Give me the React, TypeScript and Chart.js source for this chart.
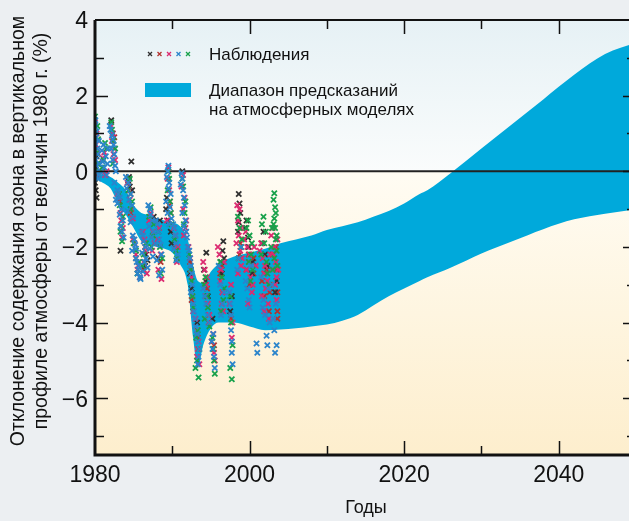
import React, { useEffect, useRef } from "react";
import { Chart, registerables } from "chart.js";

Chart.register(...registerables);

const X_MIN = 1980;
const X_MAX = 2050;
const Y_MIN = -7.5;
const Y_MAX = 4;

const xLabelYears = [1980, 2000, 2020, 2040];
const xTickYears = [1990, 2000, 2010, 2020, 2030, 2040];
const yLabelValues = [4, 2, 0, -2, -4, -6];
const yTickValues = [3, 2, 1, 0, -1, -2, -3, -4, -5, -6, -7];

const xAxisTitle = "Годы";
const yAxisTitle1 = "Отклонение содержания озона в вертикальном";
const yAxisTitle2 = "профиле атмосферы от величин 1980 г. (%)";
const legendObs = "Наблюдения";
const legendBand1 = "Диапазон предсказаний";
const legendBand2 = "на атмосферных моделях";

// model range band
const bandYears = [1980, 1981, 1982, 1983, 1984, 1985, 1986, 1987, 1988, 1989, 1990, 1991, 1992, 1992.7, 1993.3, 1994, 1995, 1996, 1998, 2000, 2002, 2004, 2006, 2008, 2010, 2012, 2014, 2016, 2018, 2020, 2022, 2023, 2026, 2030, 2034, 2038, 2042, 2046, 2050];
const bandUpper = [-0.05, -0.1, -0.15, -0.3, -0.5, -0.9, -1.1, -1.15, -1.25, -1.3, -1.35, -1.45, -1.8, -2.5, -2.9, -2.95, -2.65, -2.45, -2.25, -2.15, -2.05, -1.9, -1.8, -1.7, -1.55, -1.45, -1.35, -1.2, -1.05, -0.85, -0.6, -0.5, -0.05, 0.6, 1.25, 1.9, 2.55, 3.1, 3.4];
const bandLower = [-0.2, -0.3, -0.45, -0.85, -1.15, -1.5, -1.85, -1.95, -2.0, -2.05, -2.15, -2.45, -3.0, -4.4, -5.2, -4.6, -4.15, -4.0, -4.0, -4.1, -4.2, -4.18, -4.15, -4.1, -4.05, -3.95, -3.8, -3.55, -3.3, -3.1, -2.9, -2.8, -2.55, -2.17, -1.85, -1.53, -1.27, -1.12, -1.0];

// observations: [year, deviation %]
const obsBlue: [number, number][] = [
  [1980.0, 1.2], [1980.15, 0.9], [1980.3, 0.6], [1980.1, 0.3], [1980.25, 0.0], [1980.4, -0.2], [1980.05, 1.35], [1980.2, 1.05], [1980.0, 0.75], [1980.35, 0.45], [1980.15, 0.15], [1980.45, -0.1], [1980.5, 0.8], [1980.55, 0.2],
  [1981.1, 0.7], [1981.4, 0.4], [1981.2, 0.1], [1981.5, -0.1], [1980.9, 0.55], [1981.0, 0.25], [1980.8, -0.05], [1981.7, 0.6], [1981.6, 0.2],
  [1981.9, 1.2], [1982.2, 0.95], [1982.4, 0.7], [1982.5, 0.45], [1982.6, 0.15], [1982.0, 1.1], [1982.3, 0.85], [1982.1, 0.6], [1982.3, 0.3],
  [1982.7, 0.0], [1982.5, -0.3], [1982.9, -0.5], [1982.7, -0.75],
  [1983.2, -0.7], [1983.4, -1.0], [1983.6, -1.3], [1983.5, -1.6], [1983.0, -0.6], [1982.9, -0.85], [1983.2, -1.15], [1983.3, -1.45], [1983.7, -1.75],
  [1984.3, -0.3], [1984.6, -0.6], [1984.8, -0.9], [1984.9, -1.2], [1984.0, -0.15], [1984.1, -0.45], [1984.4, -0.75], [1984.2, -1.05], [1984.6, -1.35],
  [1985.1, -1.8], [1985.3, -2.05], [1984.9, -1.7], [1985.2, -1.95], [1984.8, -2.1],
  [1985.4, -2.4], [1985.6, -2.6], [1985.8, -2.8], [1985.3, -2.3], [1985.7, -2.5], [1985.5, -2.7], [1985.9, -2.85],
  [1986.2, -1.7], [1986.5, -2.0], [1986.6, -2.3], [1986.8, -2.55], [1986.0, -1.6], [1986.3, -1.85], [1986.1, -2.15], [1986.4, -2.4], [1986.2, -2.65],
  [1987.1, -1.0], [1987.4, -1.3], [1987.6, -1.6], [1987.8, -1.9], [1986.9, -0.9], [1987.2, -1.15], [1987.0, -1.45], [1987.3, -1.75], [1987.1, -2.05], [1987.5, -2.25],
  [1988.1, -1.4], [1988.3, -1.8], [1988.6, -2.2], [1988.7, -2.6], [1987.9, -1.3], [1988.2, -1.6], [1988.5, -1.95], [1988.0, -2.35], [1988.3, -2.75],
  [1989.4, 0.0], [1989.6, -0.3], [1989.8, -0.6], [1989.7, -0.95], [1989.9, -1.25], [1989.5, 0.15], [1989.3, -0.15], [1989.5, -0.45], [1989.2, -0.8], [1989.4, -1.1], [1989.6, -1.4],
  [1990.3, -1.5], [1990.5, -1.9], [1990.7, -2.2], [1990.1, -1.4], [1990.4, -1.7], [1990.2, -2.05], [1990.5, -2.35],
  [1991.3, -0.2], [1991.4, -0.5], [1991.6, -0.9], [1991.7, -1.3], [1991.8, -1.6], [1991.2, -0.05], [1991.1, -0.35], [1991.5, -0.7], [1991.3, -1.1], [1991.5, -1.45], [1991.9, -1.75],
  [1992.2, -2.1], [1992.4, -2.5], [1992.6, -3.0], [1992.7, -3.5], [1992.0, -2.0], [1992.3, -2.3], [1992.5, -2.7], [1992.4, -3.2], [1992.8, -3.7],
  [1993.0, -4.1], [1993.3, -4.5], [1993.4, -4.9], [1992.9, -3.9], [1993.2, -4.3], [1993.5, -4.7], [1993.3, -5.1],
  [1994.2, -3.3], [1994.6, -3.8], [1994.0, -3.1], [1994.4, -3.5], [1994.8, -4.0],
  [1995.1, -4.5], [1995.4, -4.9], [1995.3, -4.3], [1995.2, -4.7], [1995.5, -5.2],
  [1996.2, -3.0], [1996.5, -3.5], [1996.0, -2.5], [1996.7, -3.2], [1996.3, -3.8],
  [1997.5, -3.5], [1997.6, -4.2], [1997.7, -4.8], [1997.8, -5.1], [1997.4, -3.2], [1997.6, -3.8], [1997.7, -4.5],
  [1998.6, -2.3], [1998.9, -2.0], [1998.4, -2.6],
  [1999.5, -2.9], [1999.9, -3.4], [2000.2, -2.5], [1999.7, -3.1], [2000.0, -3.6],
  [2000.9, -4.55], [2001.0, -4.8],
  [2001.8, -3.4], [2002.0, -3.8], [2002.2, -4.35], [2002.3, -4.6], [2001.5, -2.8], [2002.4, -3.1], [2001.7, -3.6], [2002.6, -4.0],
  [2003.1, -3.9], [2003.3, -4.8], [2003.5, -4.6], [2002.9, -3.0], [2003.4, -3.5], [2003.2, -4.2],
];

const obsPink: [number, number][] = [
  [1980.0, 1.3], [1980.3, 0.5], [1980.4, -0.1], [1980.2, 1.0], [1980.1, 0.7], [1980.5, 0.2],
  [1981.2, 0.5], [1981.5, 0.0], [1981.0, 0.35], [1981.3, -0.1],
  [1982.3, 1.0], [1982.5, 0.6], [1982.6, 0.3], [1982.1, 1.2], [1982.2, 0.8], [1982.4, 0.45],
  [1982.9, -0.6],
  [1983.3, -1.1], [1983.5, -1.75], [1983.1, -0.7], [1983.4, -1.3], [1983.6, -1.5],
  [1984.4, -0.5], [1984.7, -1.0], [1984.2, -0.3], [1984.5, -0.75], [1984.9, -1.25],
  [1985.1, -1.9], [1985.6, -2.5], [1984.9, -1.8], [1985.3, -2.2], [1985.5, -2.6], [1985.8, -2.8],
  [1986.4, -1.8], [1986.7, -2.7], [1986.2, -1.6], [1986.5, -2.1], [1986.3, -2.4],
  [1987.2, -1.1], [1987.4, -2.1], [1987.0, -1.3], [1987.5, -1.6], [1987.7, -1.9],
  [1988.3, -1.5], [1988.6, -2.85], [1988.1, -1.8], [1988.5, -2.2], [1988.2, -2.6],
  [1989.5, 0.1], [1989.6, -0.5], [1989.8, -1.1], [1989.4, -0.2], [1989.7, -0.8], [1989.3, -1.3],
  [1990.4, -1.7], [1990.6, -2.4], [1990.2, -1.5], [1990.7, -2.0],
  [1991.4, -0.1], [1991.6, -0.7], [1991.7, -1.5], [1991.2, -0.4], [1991.4, -1.0], [1991.8, -1.3], [1991.5, -1.7],
  [1992.3, -2.3], [1992.5, -2.8], [1992.7, -3.7], [1992.1, -2.0], [1992.4, -2.6], [1992.6, -3.3],
  [1993.2, -4.2], [1993.3, -4.7], [1993.5, -5.1], [1993.0, -3.9], [1993.4, -4.5], [1993.2, -4.9],
  [1994.2, -2.6], [1994.4, -3.0], [1994.6, -3.5], [1994.7, -4.0], [1994.0, -2.4], [1994.5, -2.8], [1994.3, -3.3], [1994.8, -3.8],
  [1995.3, -4.3], [1995.5, -5.0], [1995.1, -4.5], [1995.4, -4.8],
  [1996.1, -2.2], [1996.3, -2.6], [1996.5, -3.2], [1996.6, -3.7], [1995.9, -2.0], [1996.7, -2.4], [1996.2, -2.9], [1996.4, -3.5],
  [1997.6, -3.0], [1997.7, -4.4], [1997.4, -3.5], [1997.8, -4.0],
  [1998.4, -0.9], [1998.5, -1.3], [1998.6, -1.7], [1998.8, -2.1], [1998.9, -2.5], [1998.7, -1.0], [1998.9, -1.5], [1998.3, -1.9], [1999.0, -2.3], [1998.5, -2.7],
  [1999.5, -1.6], [1999.7, -2.0], [1999.9, -2.4], [2000.1, -2.8], [2000.3, -3.2], [1999.3, -1.8], [2000.0, -2.2], [1999.6, -2.6], [2000.4, -3.0], [1999.8, -3.5],
  [2000.6, -2.0], [2000.8, -2.5],
  [2001.5, -1.9], [2001.7, -2.3], [2001.9, -2.7], [2002.1, -3.1], [2002.4, -3.5], [2002.5, -3.9], [2001.3, -2.1], [2002.0, -2.5], [2002.3, -2.9], [2001.6, -3.3], [2001.9, -3.7],
  [2002.8, -1.7], [2002.7, -2.2], [2002.9, -2.6], [2002.6, -3.0],
  [2003.0, -1.5], [2003.2, -2.0], [2003.4, -2.4], [2003.5, -2.8], [2003.6, -1.8], [2003.1, -2.2], [2003.7, -2.6], [2003.3, -3.0], [2003.5, -3.4],
];

const obsGreen: [number, number][] = [
  [1980.0, 1.45], [1980.1, 1.05], [1980.3, 0.2], [1980.3, 1.2], [1980.4, 0.85], [1980.2, 0.5], [1980.5, 0.0],
  [1981.3, 0.75], [1981.1, 0.3], [1981.5, 0.6], [1980.9, 0.1],
  [1982.1, 1.3], [1982.4, 0.8], [1982.2, 1.1], [1982.6, 0.6], [1982.3, 0.2],
  [1983.1, -0.6], [1983.4, -1.45], [1983.5, -1.85], [1983.2, -0.9], [1983.6, -1.2], [1983.3, -1.6],
  [1984.5, -0.2], [1984.8, -0.8], [1984.3, -0.5], [1984.6, -1.0],
  [1985.3, -2.1], [1985.5, -2.7], [1985.0, -1.9], [1985.7, -2.4],
  [1986.3, -2.2], [1986.6, -1.9], [1986.1, -2.5],
  [1987.2, -0.95], [1987.5, -1.7], [1987.0, -1.2], [1987.6, -1.4], [1987.3, -2.0],
  [1988.4, -2.0], [1988.5, -2.7], [1988.2, -1.6], [1988.7, -2.3],
  [1989.6, -0.2], [1989.7, -0.8], [1989.9, -1.4], [1989.5, 0.0], [1989.4, -0.5], [1989.8, -1.1],
  [1990.5, -2.1], [1990.3, -1.8], [1990.6, -2.3],
  [1991.4, -0.4], [1991.6, -1.1], [1991.3, -0.2], [1991.7, -0.8], [1991.5, -1.4],
  [1992.4, -2.6], [1992.6, -3.3], [1992.2, -2.2], [1992.5, -2.9], [1992.7, -3.6],
  [1993.1, -4.4], [1993.2, -5.0], [1993.4, -5.45], [1993.3, -4.2], [1993.5, -4.7], [1993.0, -5.2],
  [1994.3, -2.8], [1994.6, -3.6], [1994.8, -4.1], [1994.1, -3.0], [1994.5, -3.3], [1994.2, -3.9],
  [1995.3, -4.7], [1995.5, -5.35], [1995.2, -4.4], [1995.4, -5.0],
  [1996.4, -2.8], [1996.6, -3.4], [1996.2, -2.4], [1996.7, -3.1], [1996.3, -3.7],
  [1997.5, -3.3], [1997.8, -4.6], [1997.7, -5.5], [1997.6, -4.0], [1997.5, -5.2],
  [1998.7, -1.5], [1998.9, -2.0], [1998.5, -1.2], [1999.0, -1.8], [1998.6, -2.3],
  [1999.8, -1.3], [2000.0, -1.7], [2000.2, -2.2], [2000.4, -2.6], [1999.6, -1.5], [2000.3, -1.9], [1999.9, -2.4], [2000.1, -2.9],
  [2001.6, -1.4], [2001.9, -1.9], [2002.2, -2.4], [2002.5, -3.0], [2001.8, -1.2], [2002.1, -1.6], [2001.5, -2.2], [2002.3, -2.7],
  [2002.9, -1.5], [2002.8, -2.0], [2003.0, -2.6],
  [2003.2, -0.58], [2003.3, -0.95], [2003.2, -1.25], [2003.3, -1.5], [2003.4, -1.8], [2003.5, -2.1], [2003.6, -2.5],
  [2003.1, -0.75], [2003.4, -1.1], [2003.1, -1.4], [2003.5, -1.7], [2003.2, -2.3],
];

const obsBlack: [number, number][] = [
  [1980.0, -0.3], [1980.1, -0.5], [1980.2, -0.7], [1980.1, 0.1], [1980.3, -0.1], [1980.2, 0.4],
  [1982.1, 1.35], [1982.3, 1.0],
  [1983.3, -2.1],
  [1984.7, 0.26], [1984.4, -0.15], [1984.5, -0.4], [1984.6, -0.6], [1984.3, -0.25], [1984.8, -0.5],
  [1986.6, -2.2], [1986.8, -2.35], [1986.5, -2.5],
  [1987.6, -1.2],
  [1988.2, -2.3], [1988.4, -1.3],
  [1989.3, -0.7], [1989.8, -1.6], [1989.9, -1.9], [1989.2, -1.0], [1989.5, -1.3],
  [1991.3, 0.0],
  [1992.5, -3.1], [1992.3, -2.7],
  [1993.2, -4.0],
  [1994.1, -2.6], [1994.4, -2.15], [1994.6, -3.3], [1994.3, -2.9],
  [1995.2, -3.9],
  [1996.6, -1.85], [1996.5, -2.1], [1996.3, -2.4], [1996.7, -2.3], [1996.4, -2.7],
  [1997.5, -3.7], [1997.7, -3.3],
  [1998.6, -0.6], [1998.7, -0.85], [1998.5, -1.6], [1998.8, -1.1], [1998.6, -1.35],
  [1999.6, -1.3], [1999.9, -2.0], [2000.3, -2.7], [1999.4, -1.5], [1999.8, -1.75],
  [2000.4, -2.4],
  [2001.8, -1.6], [2002.0, -2.2], [2001.6, -1.9], [2002.3, -2.5],
  [2003.3, -3.2], [2003.5, -2.9],
];

const obsRed: [number, number][] = [
  [1982.5, 0.9], [1983.2, -0.8], [1984.6, -1.1], [1985.3, -2.3], [1986.5, -2.0], [1986.3, -2.6], [1988.5, -2.4],
  [1989.6, -0.9], [1990.4, -2.0], [1992.3, -2.4], [1992.5, -3.4], [1993.3, -4.4], [1994.5, -3.1], [1994.7, -3.8],
  [1995.4, -4.6], [1996.2, -2.7], [1996.5, -3.2], [1996.4, -2.5], [1997.6, -3.9], [1998.8, -1.9], [1998.7, -2.2],
  [1999.6, -2.6], [1999.9, -2.2], [2000.0, -3.0], [2000.5, -2.3], [2000.5, -2.7], [2001.6, -2.9], [2001.9, -3.3],
  [2001.9, -2.7], [2002.2, -2.6], [2002.5, -3.7], [2002.6, -3.2], [2003.0, -2.2], [2003.5, -2.6], [2003.4, -2.0],
  [2003.6, -3.2], [2003.6, -3.7], [2003.6, -3.9],
];

const COLORS = {
  black: "#2f2f2f",
  red: "#b3322f",
  pink: "#dc2a70",
  blue: "#2b84cb",
  green: "#17a14a",
  band: "#00a9db",
};

const W = 650;
const H = 521;
const PLOT_LEFT = 95;
const PLOT_RIGHT = 636;
const PLOT_TOP = 20;
const PLOT_BOTTOM = 455;
const FONT = '"Liberation Sans", Arial, Helvetica, sans-serif';

const fmt = (v: number) => (v < 0 ? "\u2212" + Math.abs(v) : String(v));

const BAND_UPPER_INDEX = 5;

const decorPlugin = {
  id: "decor",
  beforeDatasetsDraw(chart: any) {
    const { ctx, chartArea: a, scales } = chart;
    const zeroY = scales.y.getPixelForValue(0);
    const z = (zeroY - a.top) / (a.bottom - a.top);
    const g = ctx.createLinearGradient(0, a.top, 0, a.bottom);
    g.addColorStop(0, "#e6f1f5");
    g.addColorStop(z, "#fafcfc");
    g.addColorStop(Math.min(1, z + 0.002), "#fffcf3");
    g.addColorStop(1, "#fdeecd");
    ctx.save();
    ctx.fillStyle = g;
    ctx.fillRect(a.left, a.top, a.right - a.left, a.bottom - a.top);
    ctx.restore();
  },
  afterDatasetDraw(chart: any, args: any) {
    if (args.index !== BAND_UPPER_INDEX) return;
    const { ctx, chartArea: a, scales } = chart;
    const y0 = scales.y.getPixelForValue(0);
    ctx.save();
    ctx.strokeStyle = "#222";
    ctx.lineWidth = 2;
    ctx.beginPath();
    ctx.moveTo(a.left, y0);
    ctx.lineTo(a.right, y0);
    ctx.stroke();
    ctx.restore();
  },
  afterDraw(chart: any) {
    const { ctx, chartArea: a, scales } = chart;
    const xs = scales.x;
    const ys = scales.y;
    ctx.save();
    ctx.strokeStyle = "#111";
    ctx.fillStyle = "#111";
    // frame
    ctx.lineWidth = 3;
    ctx.beginPath();
    ctx.moveTo(a.left, a.top);
    ctx.lineTo(a.left, a.bottom);
    ctx.lineTo(a.right, a.bottom);
    ctx.stroke();
    ctx.lineWidth = 2;
    ctx.beginPath();
    ctx.moveTo(a.left, a.top);
    ctx.lineTo(a.right, a.top);
    ctx.lineTo(a.right, a.bottom);
    ctx.stroke();
    // ticks
    ctx.lineWidth = 1.5;
    ctx.beginPath();
    for (const v of yTickValues) {
      const py = Math.round(ys.getPixelForValue(v)) + 0.5;
      const len = yLabelValues.includes(v) ? 13 : 9;
      ctx.moveTo(a.left, py);
      ctx.lineTo(a.left + len, py);
      ctx.moveTo(a.right, py);
      ctx.lineTo(a.right - len, py);
    }
    for (const yr of xTickYears) {
      const px = Math.round(xs.getPixelForValue(yr)) + 0.5;
      const len = xLabelYears.includes(yr) ? 14 : 9;
      ctx.moveTo(px, a.bottom);
      ctx.lineTo(px, a.bottom - len);
      ctx.moveTo(px, a.top);
      ctx.lineTo(px, a.top + len);
    }
    ctx.stroke();
    // tick labels
    ctx.font = `23px ${FONT}`;
    ctx.textAlign = "right";
    ctx.textBaseline = "middle";
    for (const v of yLabelValues) {
      ctx.fillText(fmt(v), 88, ys.getPixelForValue(v) + 2);
    }
    ctx.textAlign = "center";
    ctx.textBaseline = "alphabetic";
    for (const yr of xLabelYears) {
      ctx.fillText(String(yr), xs.getPixelForValue(yr), 482);
    }
    // axis titles
    ctx.font = `18px ${FONT}`;
    ctx.fillText(xAxisTitle, 366, 513);
    ctx.save();
    ctx.font = `19.5px ${FONT}`;
    ctx.translate(19, 231);
    ctx.rotate(-Math.PI / 2);
    ctx.textBaseline = "middle";
    ctx.fillText(yAxisTitle1, 0, 0);
    ctx.fillText(yAxisTitle2, 0, 23);
    ctx.restore();
    // legend
    const mk = [COLORS.black, COLORS.red, COLORS.pink, COLORS.blue, COLORS.green];
    const mx = [150, 159.5, 169, 178.5, 188];
    ctx.lineWidth = 1.3;
    mk.forEach((c, i) => {
      ctx.strokeStyle = c;
      ctx.beginPath();
      ctx.moveTo(mx[i] - 2, 52);
      ctx.lineTo(mx[i] + 2, 56);
      ctx.moveTo(mx[i] - 2, 56);
      ctx.lineTo(mx[i] + 2, 52);
      ctx.stroke();
    });
    ctx.fillStyle = COLORS.band;
    ctx.fillRect(145, 83, 46, 14);
    ctx.fillStyle = "#111";
    ctx.font = `17px ${FONT}`;
    ctx.textAlign = "left";
    ctx.textBaseline = "middle";
    ctx.fillText(legendObs, 209, 55);
    ctx.fillText(legendBand1, 209, 91);
    ctx.fillText(legendBand2, 209, 110);
    ctx.restore();
  },
};

const toPts = (arr: [number, number][]) => arr.map(([x, y]) => ({ x, y }));

const scatterSet = (data: [number, number][], color: string) => ({
  type: "scatter" as const,
  data: toPts(data),
  pointStyle: "crossRot",
  pointRadius: 3.7,
  pointBorderWidth: 1.8,
  borderColor: color,
  backgroundColor: color,
  showLine: false,
  order: 1,
});

export default function App() {
  const ref = useRef<HTMLCanvasElement | null>(null);
  useEffect(() => {
    if (!ref.current) return;
    const chart = new Chart(ref.current, {
      type: "scatter",
      data: {
        datasets: [
          scatterSet(obsBlue, COLORS.blue),
          scatterSet(obsGreen, COLORS.green),
          scatterSet(obsPink, COLORS.pink),
          scatterSet(obsBlack, COLORS.black),
          scatterSet(obsRed, COLORS.red),
          {
            type: "line",
            data: bandYears.map((x, i) => ({ x, y: bandUpper[i] })),
            borderWidth: 0,
            borderColor: "rgba(0,0,0,0)",
            pointRadius: 0,
            backgroundColor: COLORS.band,
            fill: "+1",
            cubicInterpolationMode: "monotone",
            order: 10,
          },
          {
            type: "line",
            data: bandYears.map((x, i) => ({ x, y: bandLower[i] })),
            borderWidth: 0,
            borderColor: "rgba(0,0,0,0)",
            pointRadius: 0,
            fill: false,
            cubicInterpolationMode: "monotone",
            order: 10,
          },
        ] as any,
      },
      options: {
        animation: false,
        responsive: false,
        maintainAspectRatio: false,
        devicePixelRatio: 1,
        layout: {
          padding: { left: PLOT_LEFT, right: W - PLOT_RIGHT, top: PLOT_TOP, bottom: H - PLOT_BOTTOM },
        },
        scales: {
          x: { type: "linear", min: X_MIN, max: X_MAX, display: false },
          y: { type: "linear", min: Y_MIN, max: Y_MAX, display: false },
        },
        plugins: { legend: { display: false }, tooltip: { enabled: false } },
        events: [],
      },
      plugins: [decorPlugin],
    } as any);
    return () => chart.destroy();
  }, []);
  return (
    <div
      style={{
        position: "fixed",
        left: 0,
        top: 0,
        width: 629,
        height: 521,
        overflow: "hidden",
        background: "#eceff2",
      }}
    >
      <canvas ref={ref} width={W} height={H} style={{ display: "block", width: W, height: H }} />
    </div>
  );
}
